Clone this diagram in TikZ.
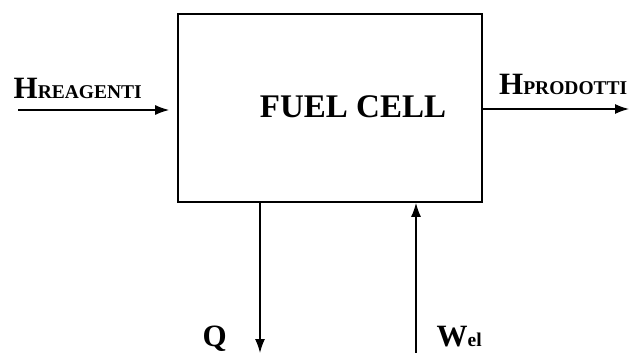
\documentclass[tikz,border=0pt]{standalone}
\usepackage{fontspec}
\setmainfont{Liberation Serif}
\usetikzlibrary{arrows.meta}
\newcommand\bigsym[1]{{\fontsize{31}{31}\selectfont #1}}
\newcommand\subsym[1]{{\fontsize{19.5}{19.5}\selectfont #1}}
\begin{document}
\begin{tikzpicture}[x=1pt, y=-1pt, >={Latex[length=14pt,width=10pt]}, line width=1.4pt, every node/.style={font=\bfseries, inner sep=0pt}]
\useasboundingbox (0,0) rectangle (632,353);
\node (cell) [draw, line width=1.7pt, minimum width=304pt, minimum height=188pt] at (330,108) {};
\node (fc) at (353,107) {\fontsize{33}{33}\selectfont FUEL CELL};
\node (hr) [anchor=base west] at (13,99) {\bigsym{H}\subsym{REAGENTI}};
\node (hp) [anchor=base east] at (628,95) {\bigsym{H}\subsym{PRODOTTI}};
\node (q) [anchor=base west] at (202,346) {\bigsym{Q}};
\node (w) [anchor=base west] at (436,346) {\bigsym{W}\subsym{el}};

\coordinate (hin) at (18,110);
\coordinate (hout) at (629,109);
\coordinate (qout) at (260,353);
\coordinate (win) at (416,353);

\draw[->, shorten >=8pt] (hin) -- (hin -| cell.west);
\draw[->] (cell.east |- hout) -- (hout);
\draw[->] (cell.south -| qout) -- (qout);
\draw[->] (win) -- (cell.south -| win);
\end{tikzpicture}
\end{document}
